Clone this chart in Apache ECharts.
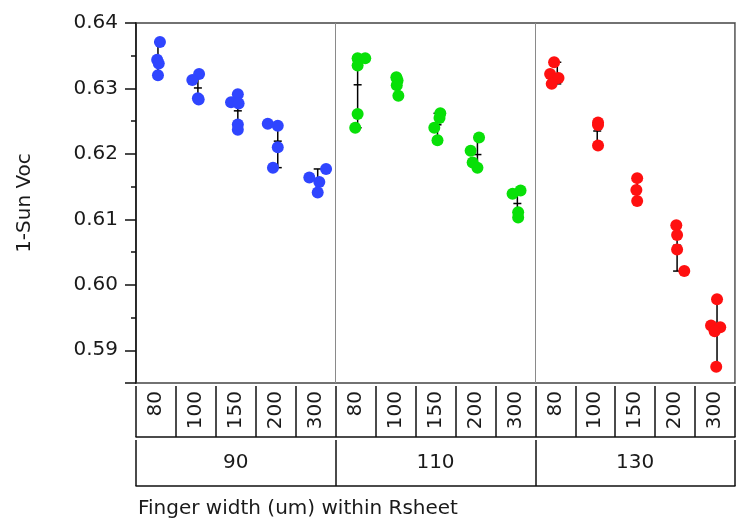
<!DOCTYPE html>
<html>
<head>
<meta charset="utf-8">
<script src="https://cdn.jsdelivr.net/npm/echarts@6/dist/echarts.min.js"></script>
<style>html,body{margin:0;padding:0;background:#fff;}#c{width:740px;height:526px;}</style>
</head>
<body>
<div id="c"></div>
<script>
// ---- data ----
const rsheet = ['90', '110', '130'];
const fingerWidth = ['80', '100', '150', '200', '300'];
const yTickLabels = ['0.59', '0.60', '0.61', '0.62', '0.63', '0.64'];

const voc90 = [
  [0.6371, 0.6344, 0.6338, 0.6320],
  [0.6322, 0.6313, 0.6285, 0.6283],
  [0.6291, 0.6279, 0.6277, 0.6245, 0.6237],
  [0.6246, 0.6243, 0.6210, 0.6179],
  [0.6177, 0.6164, 0.6157, 0.6141]
];
const voc110 = [
  [0.6346, 0.6346, 0.6335, 0.6261, 0.6240],
  [0.6317, 0.6312, 0.6305, 0.6289],
  [0.6262, 0.6255, 0.6240, 0.6221],
  [0.6225, 0.6205, 0.6187, 0.6179],
  [0.6144, 0.6139, 0.6111, 0.6103]
];
const voc130 = [
  [0.6340, 0.6322, 0.6316, 0.6307],
  [0.6248, 0.6244, 0.6213],
  [0.6163, 0.6145, 0.6128],
  [0.6091, 0.6076, 0.6054, 0.6021],
  [0.5978, 0.5938, 0.5935, 0.5929, 0.5875]
];
// horizontal jitter of each point (fraction of a category), as seen in the picture
const jitter90 = [
  [0.05, -0.02, 0.02, 0],
  [0.03, -0.14, 0, 0.02],
  [0, -0.17, 0.02, 0, 0],
  [-0.25, 0, 0, -0.12],
  [0.21, -0.21, 0.04, 0]
];
const jitter110 = [
  [0, 0.19, 0, 0, -0.06],
  [-0.03, 0, -0.02, 0.02],
  [0.07, 0.05, -0.08, 0],
  [0.04, -0.17, -0.12, 0],
  [0.08, -0.12, 0.02, 0.02]
];
const jitter130 = [
  [-0.08, -0.18, 0.03, -0.14],
  [0.02, 0.02, 0.02],
  [0, -0.02, 0],
  [-0.02, 0, 0, 0.18],
  [0, -0.15, 0.08, -0.06, -0.02]
];

// ---- build ----
const groups = [
  { vals: voc90, jit: jitter90, color: '#2f45ff' },
  { vals: voc110, jit: jitter110, color: '#08e008' },
  { vals: voc130, jit: jitter130, color: '#ff1010' }
];
const nF = fingerWidth.length;
const barShift = 0.05;
const FONT = 'DejaVu Sans';
const TXT = '#1a1a1a';

const cellLabels = [];
rsheet.forEach(() => fingerWidth.forEach(f => cellLabels.push(f)));

const scatterSeries = [];
const rangeData = [];
groups.forEach((g, gi) => {
  const pts = [];
  g.vals.forEach((arr, fi) => {
    const cell = gi * nF + fi;
    const cx = cell + 0.5 + barShift;
    arr.forEach((v, k) => pts.push([cx + g.jit[fi][k], v]));
    const mn = Math.min(...arr), mx = Math.max(...arr);
    const mean = arr.reduce((a, b) => a + b, 0) / arr.length;
    rangeData.push([cx, mn, mx, mean]);
  });
  scatterSeries.push({
    type: 'scatter', xAxisIndex: 0, yAxisIndex: 0, data: pts,
    symbol: 'circle', symbolSize: 12, z: 5,
    itemStyle: { color: g.color, opacity: 1 }, silent: true
  });
});

const rangeSeries = {
  type: 'custom', xAxisIndex: 0, yAxisIndex: 0, z: 3, silent: true,
  data: rangeData,
  encode: { x: 0, y: [1, 2, 3] },
  renderItem: function (params, api) {
    const x = api.value(0);
    const top = api.coord([x, api.value(2)]);
    const bot = api.coord([x, api.value(1)]);
    const mid = api.coord([x, api.value(3)]);
    const hw = 4;
    const st = { stroke: '#000', lineWidth: 1.5 };
    return {
      type: 'group',
      children: [
        { type: 'line', shape: { x1: top[0], y1: top[1], x2: bot[0], y2: bot[1] }, style: st },
        { type: 'line', shape: { x1: top[0] - hw, y1: top[1], x2: top[0] + hw, y2: top[1] }, style: st },
        { type: 'line', shape: { x1: bot[0] - hw, y1: bot[1], x2: bot[0] + hw, y2: bot[1] }, style: st },
        { type: 'line', shape: { x1: mid[0] - hw, y1: mid[1], x2: mid[0] + hw, y2: mid[1] }, style: st }
      ]
    };
  }
};

const lineCol = '#111';
const chart = echarts.init(document.getElementById('c'), null, { renderer: 'canvas' });
chart.setOption({
  animation: false,
  backgroundColor: '#fff',
  title: {
    text: 'Finger width (um) within Rsheet',
    left: 138, top: 499, padding: 0,
    textStyle: { fontFamily: FONT, fontSize: 20, fontWeight: 'normal', color: TXT }
  },
  grid: {
    left: 136, right: 5, top: 23, bottom: 143,
    show: true, borderColor: '#444', borderWidth: 1.5, backgroundColor: '#fff'
  },
  xAxis: [
    { // data axis
      type: 'value', min: 0, max: 15, interval: 5, position: 'bottom',
      axisLine: { show: false }, axisTick: { show: false }, axisLabel: { show: false },
      splitLine: { show: true, lineStyle: { color: '#8a8a8a', width: 1 } }
    },
    { // finger-width row
      type: 'category', data: cellLabels, position: 'bottom', offset: 3, boundaryGap: true,
      axisLine: { show: false },
      axisTick: { show: true, interval: 0, length: 51, lineStyle: { color: lineCol, width: 1.5 } },
      axisLabel: { interval: 0, rotate: 90, margin: 5, fontFamily: FONT, fontSize: 20, color: TXT },
      splitLine: { show: false }
    },
    { // bottom line of row 1
      type: 'value', min: 0, max: 1, position: 'bottom', offset: 54,
      axisLine: { show: true, lineStyle: { color: lineCol, width: 1.5 } },
      axisTick: { show: false }, axisLabel: { show: false }, splitLine: { show: false }
    },
    { // Rsheet row
      type: 'category', data: rsheet, position: 'bottom', offset: 57, boundaryGap: true,
      axisLine: { show: false },
      axisTick: { show: true, interval: 0, length: 46, lineStyle: { color: lineCol, width: 1.5 } },
      axisLabel: { interval: 0, margin: 13, fontFamily: FONT, fontSize: 20, color: TXT },
      splitLine: { show: false }
    },
    { // bottom line of row 2
      type: 'value', min: 0, max: 1, position: 'bottom', offset: 103,
      axisLine: { show: true, lineStyle: { color: lineCol, width: 1.5 } },
      axisTick: { show: false }, axisLabel: { show: false }, splitLine: { show: false }
    }
  ],
  yAxis: {
    type: 'value', min: 0.585, max: 0.64, splitNumber: 5, offset: 2,
    name: '1-Sun Voc', nameLocation: 'middle', nameGap: 99, nameRotate: 90,
    nameTextStyle: { fontFamily: FONT, fontSize: 20, color: TXT },
    axisLine: { show: true, lineStyle: { color: lineCol, width: 1.5 } },
    axisTick: { show: true, length: 11, lineStyle: { color: lineCol, width: 1.5 } },
    minorTick: { show: true, splitNumber: 2, length: 5, lineStyle: { color: lineCol, width: 1.5 } },
    axisLabel: {
      margin: 16, fontFamily: FONT, fontSize: 20, color: TXT, showMinLabel: true, showMaxLabel: true,
      formatter: function (v) {
        const s = v.toFixed(2);
        return (yTickLabels.indexOf(s) >= 0 && Math.abs(v - parseFloat(s)) < 1e-7) ? s : '';
      }
    },
    splitLine: { show: false }
  },
  series: [rangeSeries].concat(scatterSeries)
});
</script>
</body>
</html>
